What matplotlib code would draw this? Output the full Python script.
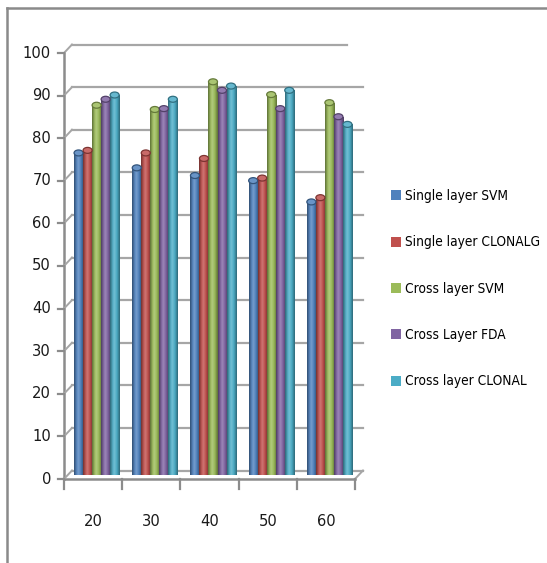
import numpy as np
import matplotlib
matplotlib.use("Agg")
import matplotlib.pyplot as plt
from matplotlib import font_manager
from matplotlib.colors import LinearSegmentedColormap, to_rgb
from matplotlib.patches import Ellipse, Patch
from matplotlib.lines import Line2D
from matplotlib.transforms import ScaledTranslation

# ---- data ----
categories = ["20", "30", "40", "50", "60"]
series_names = ["Single layer SVM", "Single layer CLONALG", "Cross layer SVM",
                "Cross Layer FDA", "Cross layer CLONAL"]
single_svm = [75.6, 72.1, 70.3, 69.1, 64.1]
single_clonalg = [76.2, 75.6, 74.3, 69.7, 65.1]
cross_svm = [86.8, 85.8, 92.3, 89.3, 87.4]
cross_fda = [88.2, 86.0, 90.3, 86.0, 84.1]
cross_clonal = [89.2, 88.2, 91.3, 90.3, 82.3]
series_values = [single_svm, single_clonalg, cross_svm, cross_fda, cross_clonal]
colors = ["#4F81BD", "#C0504D", "#9BBB59", "#8064A2", "#4BACC6"]
y_ticks = list(range(0, 101, 10))

W, H = 547, 563
DPI = 100

# prefer a narrow sans face for the labels if one is installed
narrow = None
for f in font_manager.fontManager.ttflist:
    if f.style != "normal" or f.weight not in (400, "normal", "regular"):
        continue
    if "Narrow" in f.name or "Condensed" in f.name or f.stretch in ("condensed", "semi-condensed"):
        if "Mono" in f.name or "Serif" in f.name:
            continue
        narrow = f.fname
        break
if narrow:
    label_fp = font_manager.FontProperties(fname=narrow, size=11.8)
    legend_fp = font_manager.FontProperties(fname=narrow, size=9.8)
else:
    label_fp = font_manager.FontProperties(family="Liberation Sans", size=11.0)
    legend_fp = font_manager.FontProperties(family="Liberation Sans", size=9.2)

fig = plt.figure(figsize=(W / DPI, H / DPI), dpi=DPI)

# outer frame
frame_kw = dict(color="#8a8a8a", lw=1.8, transform=fig.transFigure)
fig.add_artist(Line2D([7 / W, 7 / W], [0, 1 - 8 / H], **frame_kw))
fig.add_artist(Line2D([7 / W, 1], [1 - 8 / H, 1 - 8 / H], **frame_kw))

# axes frame at mid depth of the columns
ax_l, ax_r = 67.5, 358.5
ax_b, ax_t = 475, 49
ax = fig.add_axes([ax_l / W, (H - ax_b) / H, (ax_r - ax_l) / W, (ax_b - ax_t) / H])
ax.set_xlim(0, len(categories))
ax.set_ylim(0, 100)
ax.axis("off")

px = 1.0 / DPI
front = ax.transData + ScaledTranslation(-3.5 * px, -4 * px, fig.dpi_scale_trans)
back = ax.transData + ScaledTranslation(4.5 * px, 4.5 * px, fig.dpi_scale_trans)
grid_c = "#a6a6a6"
axis_c = "#8c8c8c"

# back wall gridlines
for v in y_ticks:
    x_end = 4.73 if v == 100 else len(categories)
    ax.add_line(Line2D([0, x_end], [v, v], color=grid_c, lw=1.6, transform=back, clip_on=False))
# connectors from front ticks to back wall
for v in y_ticks:
    x0, y0 = front.transform((0, v))
    x1, y1 = back.transform((0, v))
    fig.add_artist(Line2D([x0 / W, x1 / W], [y0 / H, y1 / H], color=grid_c, lw=1.4,
                          transform=fig.transFigure))
# right floor edge
x0, y0 = front.transform((len(categories), 0))
x1, y1 = back.transform((len(categories), 0))
fig.add_artist(Line2D([x0 / W, x1 / W], [y0 / H, y1 / H], color=grid_c, lw=1.4,
                      transform=fig.transFigure))

# front axes
ax.add_line(Line2D([0, 0], [0, 100], color=axis_c, lw=1.8, transform=front, clip_on=False))
ax.add_line(Line2D([0, len(categories)], [0, 0], color=axis_c, lw=1.8, transform=front, clip_on=False))
for v in y_ticks:
    x0, y0 = front.transform((0, v))
    fig.add_artist(Line2D([(x0 - 6) / W, x0 / W], [y0 / H, y0 / H], color=axis_c, lw=1.6,
                          transform=fig.transFigure))
    fig.text((x0 - 13) / W, y0 / H, str(v), ha="right", va="center",
             fontproperties=label_fp, color="#1a1a1a")
for i in range(len(categories) + 1):
    x0, y0 = front.transform((i, 0))
    fig.add_artist(Line2D([x0 / W, x0 / W], [y0 / H, (y0 - 10) / H], color=axis_c, lw=1.6,
                          transform=fig.transFigure))
for i, c in enumerate(categories):
    x0, y0 = front.transform((i + 0.5, 0))
    fig.text(x0 / W, (y0 - 43) / H, c, ha="center", va="center",
             fontproperties=label_fp, color="#1a1a1a")

# cylinder-shaded columns
def shade(c, f):
    r = np.array(to_rgb(c))
    if f >= 0:
        return tuple(r + (1 - r) * f)
    return tuple(r * (1 + f))

bw = 0.155
n = len(series_values)
grad = np.linspace(0, 1, 64)[None, :]
for k, (vals, col) in enumerate(zip(series_values, colors)):
    cmap = LinearSegmentedColormap.from_list(
        "c%d" % k,
        [(0, shade(col, -0.4)), (0.3, shade(col, 0.08)), (0.45, shade(col, 0.22)),
         (0.7, shade(col, -0.02)), (1, shade(col, -0.4))])
    xs = np.arange(len(categories)) + 0.5 + (k - (n - 1) / 2) * bw
    bars = ax.bar(xs, vals, width=bw, color=col, linewidth=0, zorder=3)
    for b, x, v in zip(bars, xs, vals):
        im = ax.imshow(grad, extent=[x - bw / 2, x + bw / 2, 0, v], aspect="auto",
                       cmap=cmap, zorder=3.1, interpolation="bilinear")
        im.set_clip_path(b)
        ax.add_patch(Ellipse((x, v), bw, 1.4, facecolor=shade(col, 0.15),
                             edgecolor=shade(col, -0.35), lw=0.9, zorder=3.2))
ax.set_xlim(0, len(categories))
ax.set_ylim(0, 100)

# legend, rows about 46 px apart
fs_px = legend_fp.get_size_in_points() * DPI / 72.0
spacing = (46.2 - 1.02 * fs_px) / fs_px
handles = [Patch(facecolor=c, edgecolor="none") for c in colors]
fig.legend(handles, series_names, loc="upper left", bbox_to_anchor=(391 / W, 1 - 189 / H),
           frameon=False, prop=legend_fp, handlelength=0.75, handleheight=0.75,
           handletextpad=0.25, labelspacing=spacing,
           borderaxespad=0, borderpad=0)

fig.savefig("out.png", dpi=DPI)
